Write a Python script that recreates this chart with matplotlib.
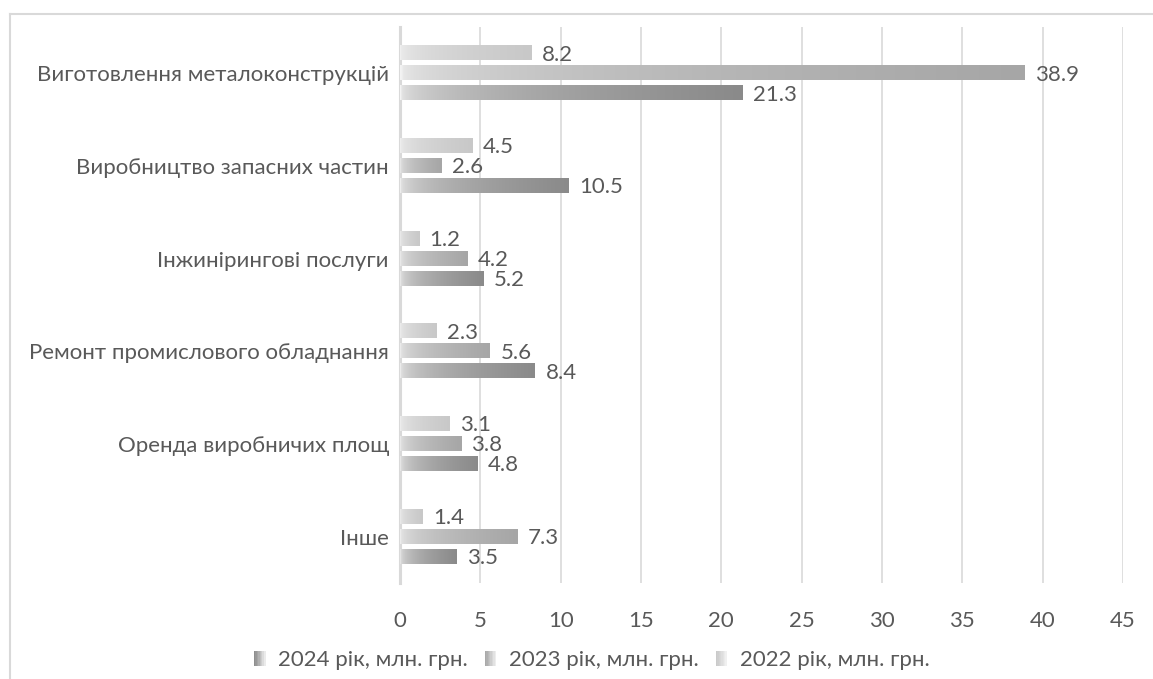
import numpy as np
import matplotlib
matplotlib.use("Agg")
import matplotlib.pyplot as plt
from matplotlib.lines import Line2D
from matplotlib.legend_handler import HandlerBase
from matplotlib.patches import Rectangle

plt.rcParams['font.family'] = ['Lato', 'DejaVu Sans']

categories = [
    "Виготовлення металоконструкцій",
    "Виробництво запасних частин",
    "Інжинірингові послуги",
    "Ремонт промислового обладнання",
    "Оренда виробничих площ",
    "Інше",
]
series_names = ["2024 рік, млн. грн.", "2023 рік, млн. грн.", "2022 рік, млн. грн."]
values_2024 = [21.3, 10.5, 5.2, 8.4, 4.8, 3.5]
values_2023 = [38.9, 2.6, 4.2, 5.6, 3.8, 7.3]
values_2022 = [8.2, 4.5, 1.2, 2.3, 3.1, 1.4]
x_ticks = [0, 5, 10, 15, 20, 25, 30, 35, 40, 45]

series_values = [values_2024, values_2023, values_2022]
full_colors = [0x8a, 0xa6, 0xc8]
light = 0xf3
offsets = [-0.215, 0.0, 0.215]   # 2024 lowest, 2022 on top
bar_h = 0.152
text_color = "#595959"
fs = 16

W, H = 1153, 679
fig = plt.figure(figsize=(W / 100, H / 100), dpi=100)
ax = fig.add_axes([400 / W, 1 - 583 / H, 723 / W, (583 - 27) / H])

n = len(categories)
ypos = np.arange(n)[::-1]  # first category at top

def ramp(full, npts=256):
    t = np.linspace(0, 1, npts)
    f = t ** 0.35
    g = (light + (full - light) * f) / 255.0
    img = np.stack([g, g, g], axis=-1)[None, :, :]
    return img

for vals, full, off in zip(series_values, full_colors, offsets):
    img = ramp(full)
    for y, v in zip(ypos, vals):
        yc = y + off
        ax.imshow(img, extent=[0, v, yc - bar_h / 2, yc + bar_h / 2],
                  aspect='auto', interpolation='bilinear', zorder=2)
        ax.annotate(f"{v}", xy=(v, yc), xytext=(7.5, -1), textcoords='offset points',
                    va='center', ha='left', fontsize=fs, color=text_color, zorder=3)

ax.set_xlim(0, 45)
ax.set_ylim(-0.5, n - 0.5)
ax.set_xticks(x_ticks)
ax.set_xticklabels([str(t) for t in x_ticks])
ax.set_yticks(ypos)
ax.set_yticklabels(categories)
ax.tick_params(axis='both', length=0, labelsize=fs, colors=text_color)
ax.tick_params(axis='x', pad=20)
ax.tick_params(axis='y', pad=8)
for lbl in ax.get_yticklabels():
    lbl.set_y(lbl.get_position()[1])
ax.grid(axis='x', color='#d9d9d9', linewidth=1.2, zorder=0)
ax.set_axisbelow(True)
for s in ['top', 'right', 'bottom']:
    ax.spines[s].set_visible(False)
ax.spines['left'].set_color('#d9d9d9')
ax.spines['left'].set_linewidth(2.2)
ax.spines['left'].set_zorder(1)

# outer chart frame (top and left edges)
fig.add_artist(Line2D([10 / W, 1], [1 - 14 / H, 1 - 14 / H], color='#d9d9d9', linewidth=1.5,
                      transform=fig.transFigure))
fig.add_artist(Line2D([10 / W, 10 / W], [0, 1 - 14 / H], color='#d9d9d9', linewidth=1.5,
                      transform=fig.transFigure))


class GradientSquare(HandlerBase):
    def __init__(self, full):
        super().__init__()
        self.full = full

    def create_artists(self, legend, orig_handle, xdescent, ydescent, width, height,
                       fontsize, trans):
        arts = []
        w = width
        h = height * 0.95
        steps = 8
        for i in range(steps):
            t = (i + 0.5) / steps
            g = (self.full + (light - self.full) * t ** 1.2) / 255.0
            arts.append(Rectangle((i * w / steps, -ydescent + (height - h) / 2),
                                  w / steps + 0.3, h, facecolor=(g, g, g),
                                  edgecolor='none', transform=trans))
        return arts

handles = [Rectangle((0, 0), 1, 1) for _ in series_names]
leg = fig.legend(handles, series_names, loc='center', bbox_to_anchor=(592 / W, 1 - 660 / H),
                 ncol=3, frameon=False, fontsize=fs, handlelength=0.5, handleheight=0.7,
                 handletextpad=0.6, columnspacing=0.75,
                 handler_map={h: GradientSquare(f) for h, f in zip(handles, full_colors)})
for t in leg.get_texts():
    t.set_color(text_color)

fig.savefig("out.png", dpi=100, facecolor='white')
